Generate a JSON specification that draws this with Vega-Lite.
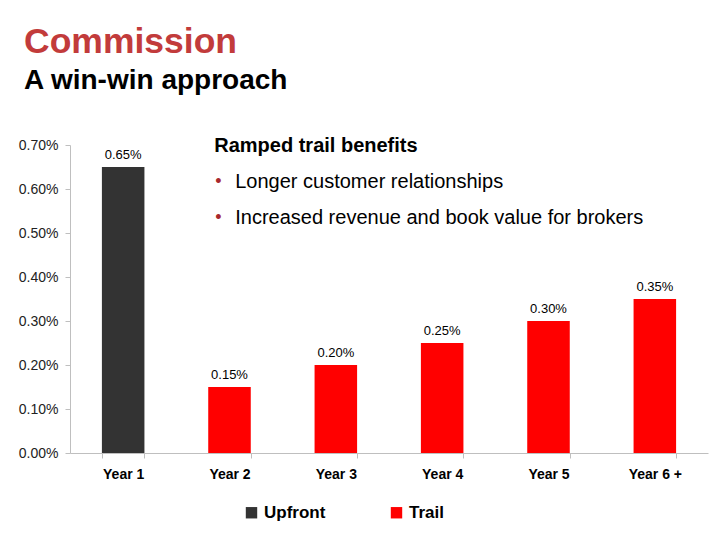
{
  "$schema": "https://vega.github.io/schema/vega-lite/v6.json",
  "width": 638,
  "height": 308,
  "autosize": {"type": "none"},
  "padding": {"left": 70, "top": 145, "right": 12, "bottom": 87},
  "background": "white",
  "title": {
    "text": "Commission",
    "subtitle": "A win-win approach",
    "anchor": "start",
    "frame": "group",
    "dx": -46,
    "offset": 41,
    "font": "Liberation Sans",
    "fontSize": 35.5,
    "fontWeight": "bold",
    "color": "#C23B3B",
    "subtitleFont": "Liberation Sans",
    "subtitleFontSize": 28,
    "subtitleFontWeight": "bold",
    "subtitleColor": "#000000",
    "subtitlePadding": 6
  },
  "config": {"view": {"stroke": null}, "font": "Liberation Sans"},
  "data": {
    "values": [
      {"year": "Year 1", "type": "Upfront", "value": 0.0065},
      {"year": "Year 2", "type": "Trail", "value": 0.0015},
      {"year": "Year 3", "type": "Trail", "value": 0.002},
      {"year": "Year 4", "type": "Trail", "value": 0.0025},
      {"year": "Year 5", "type": "Trail", "value": 0.003},
      {"year": "Year 6 +", "type": "Trail", "value": 0.0035}
    ]
  },
  "layer": [
    {
      "mark": {"type": "bar"},
      "encoding": {
        "x": {
          "field": "year",
          "type": "nominal",
          "sort": null,
          "scale": {"domain": ["Year 1", "Year 2", "Year 3", "Year 4", "Year 5", "Year 6 +"], "paddingInner": 0.6, "paddingOuter": 0.3},
          "axis": {
            "title": null,
            "labelAngle": 0,
            "labelFontSize": 14,
            "labelFontWeight": "bold",
            "labelColor": "#000000",
            "tickBand": "extent",
            "tickSize": 5,
            "tickColor": "#bfbfbf",
            "domainColor": "#bfbfbf",
            "labelPadding": 9
          }
        },
        "y": {
          "field": "value",
          "type": "quantitative",
          "scale": {"domain": [0, 0.007]},
          "axis": {
            "title": null,
            "format": ".2%",
            "values": [0, 0.001, 0.002, 0.003, 0.004, 0.005, 0.006, 0.007],
            "grid": false,
            "labelFontSize": 14,
            "labelColor": "#222222",
            "tickColor": "#bfbfbf",
            "domainColor": "#bfbfbf",
            "tickSize": 5,
            "labelPadding": 7
          }
        },
        "color": {
          "field": "type",
          "type": "nominal",
          "scale": {"domain": ["Upfront", "Trail"], "range": ["#333333", "#FF0000"]},
          "legend": {
            "title": null,
            "orient": "none",
            "legendX": 173,
            "legendY": 359,
            "direction": "horizontal",
            "symbolType": "square",
            "symbolSize": 130,
            "symbolStrokeWidth": 0,
            "labelFontSize": 17,
            "labelFontWeight": "bold",
            "labelColor": "#000000",
            "labelOffset": 4,
            "columnPadding": 62
          }
        }
      }
    },
    {
      "mark": {"type": "text", "dy": -12, "fontSize": 13, "color": "#000000"},
      "encoding": {
        "x": {"field": "year", "type": "nominal", "sort": null},
        "y": {"field": "value", "type": "quantitative"},
        "text": {"field": "value", "type": "quantitative", "format": ".2%"}
      }
    },
    {
      "data": {
        "values": [
          {"year": "Year 2", "kind": "head", "pos": 0.00698, "note": "Ramped trail benefits"},
          {"year": "Year 2", "kind": "bullet", "pos": 0.00616, "note": "Longer customer relationships"},
          {"year": "Year 2", "kind": "bullet", "pos": 0.00534, "note": "Increased revenue and book value for brokers"}
        ]
      },
      "layer": [
        {
          "transform": [{"filter": "datum.kind === 'head'"}],
          "mark": {"type": "text", "align": "left", "baseline": "middle", "dx": 6, "fontSize": 20, "fontWeight": "bold", "color": "#000000"},
          "encoding": {
            "x": {"field": "year", "type": "nominal", "sort": null, "bandPosition": 0},
            "y": {"field": "pos", "type": "quantitative"},
            "text": {"field": "note"}
          }
        },
        {
          "transform": [{"filter": "datum.kind === 'bullet'"}],
          "mark": {"type": "text", "align": "left", "baseline": "middle", "dx": 27, "fontSize": 20, "color": "#000000"},
          "encoding": {
            "x": {"field": "year", "type": "nominal", "sort": null, "bandPosition": 0},
            "y": {"field": "pos", "type": "quantitative"},
            "text": {"field": "note"}
          }
        },
        {
          "transform": [{"filter": "datum.kind === 'bullet'"}],
          "mark": {"type": "text", "align": "left", "baseline": "middle", "dx": 7, "fontSize": 18, "color": "#A8282E", "text": "•"},
          "encoding": {
            "x": {"field": "year", "type": "nominal", "sort": null, "bandPosition": 0},
            "y": {"field": "pos", "type": "quantitative"}
          }
        }
      ]
    }
  ]
}
